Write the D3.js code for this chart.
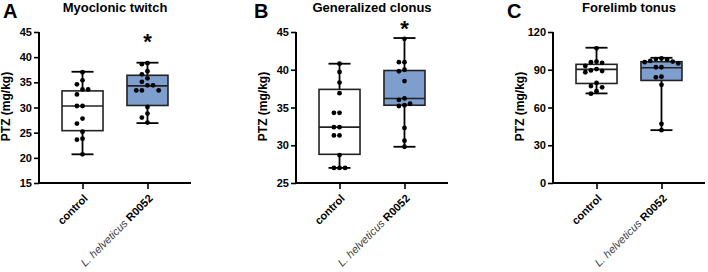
<!DOCTYPE html>
<html>
<head>
<meta charset="utf-8">
<script src="https://cdn.jsdelivr.net/npm/d3@7"></script>
<style>
  body { margin: 0; background: #fff; }
  text { font-family: Arial, "Liberation Sans", sans-serif; }
</style>
</head>
<body>
<div id="chart"></div>
<script>
// Data
const groups = ["control", "R0052"];
const panelLetters = ["A", "B", "C"];
const panelTitles = ["Myoclonic twitch", "Generalized clonus", "Forelimb tonus"];
const yDomains = [[15, 45], [25, 45], [0, 120]];
const yTicks = [[15, 20, 25, 30, 35, 40, 45], [25, 30, 35, 40, 45], [0, 30, 60, 90, 120]];

// box stats: [min, q1, median, q3, max]
const myoclonicBox = [[20.7, 25.4, 30.3, 33.3, 37.1], [26.9, 30.4, 34.3, 36.4, 38.9]];
const clonusBox = [[27.0, 28.8, 32.4, 37.4, 40.8], [29.8, 35.3, 36.2, 39.9, 44.2]];
const tonusBox = [[71.2, 79.1, 90.3, 94.3, 107.5], [42.0, 81.5, 91.6, 96.4, 99.5]];

const myoclonicControl = [37.0, 35.4, 34.6, 33.6, 33.6, 32.6, 30.3, 30.3, 27.8, 26.8, 25.2, 23.8, 23.6, 20.7];
const myoclonicR0052 = [38.8, 38.6, 37.2, 36.6, 35.8, 35.1, 34.4, 34.4, 33.4, 33.4, 33.4, 30.1, 28.8, 28.0, 27.0];
const clonusControl = [40.8, 39.7, 38.3, 36.9, 34.3, 34.3, 32.4, 32.4, 31.3, 31.3, 28.7, 27.0, 27.0, 27.0];
const clonusR0052 = [44.1, 41.0, 41.0, 40.0, 39.8, 38.5, 36.2, 36.0, 35.5, 35.3, 35.2, 32.3, 30.6, 29.8];
const tonusControl = [107.0, 96.5, 96.0, 95.5, 93.0, 90.5, 89.5, 89.0, 88.0, 79.5, 77.0, 76.0, 73.0, 71.0];
const tonusR0052 = [99.0, 98.5, 98.0, 97.0, 96.5, 96.0, 95.0, 92.0, 92.0, 84.5, 84.0, 78.0, 47.0, 42.0];

const significant = [[false, true], [false, true], [false, false]];

const panels = [
  { box: myoclonicBox, points: [myoclonicControl, myoclonicR0052] },
  { box: clonusBox, points: [clonusControl, clonusR0052] },
  { box: tonusBox, points: [tonusControl, tonusR0052] }
];

const W = 708, H = 272;
const svg = d3.select("#chart").append("svg").attr("width", W).attr("height", H);

const panelLeft = [39, 296, 553];
const axisLen = 152;
const yTop = 32, yBottom = 183;
const boxW = 41, capW = 22, r = 2.4;
const fillColors = ["#ffffff", "#7e9fcd"];

// simple beeswarm placement along x
function swarm(values, y, cx) {
  const placed = [];
  const step = 5.6;
  return values.map(v => {
    const py = y(v);
    let off = 0;
    for (let k = 0; k < 20; k++) {
      const cand = k === 0 ? 0 : (k % 2 ? -1 : 1) * Math.ceil(k / 2) * step;
      const hit = placed.some(p => Math.hypot(p.x - (cx + cand), p.y - py) < step - 0.2);
      if (!hit) { off = cand; break; }
    }
    const p = { x: cx + off, y: py };
    placed.push(p);
    return p;
  });
}

panels.forEach((panel, i) => {
  const g = svg.append("g").attr("transform", `translate(${panelLeft[i]},0)`);

  const x = d3.scalePoint().domain(groups).range([0, axisLen]).padding(0.67);
  const y = d3.scaleLinear().domain(yDomains[i]).range([yBottom, yTop]);

  // boxes
  groups.forEach((grp, j) => {
    const [mn, q1, med, q3, mx] = panel.box[j];
    const cx = x(grp);
    g.append("line").attr("x1", cx).attr("x2", cx).attr("y1", y(mn)).attr("y2", y(mx))
      .attr("stroke", "#000").attr("stroke-width", 1.8);
    [mn, mx].forEach(v => g.append("line")
      .attr("x1", cx - capW / 2).attr("x2", cx + capW / 2).attr("y1", y(v)).attr("y2", y(v))
      .attr("stroke", "#000").attr("stroke-width", 1.8));
    g.append("rect").attr("x", cx - boxW / 2).attr("y", y(q3))
      .attr("width", boxW).attr("height", y(q1) - y(q3))
      .attr("fill", fillColors[j]).attr("stroke", "#222").attr("stroke-width", 1.6);
    g.append("line").attr("x1", cx - boxW / 2).attr("x2", cx + boxW / 2)
      .attr("y1", y(med)).attr("y2", y(med)).attr("stroke", "#222").attr("stroke-width", 1.6);

    g.selectAll(null).data(swarm(panel.points[j], y, cx)).join("circle")
      .attr("cx", d => d.x).attr("cy", d => d.y).attr("r", r).attr("fill", "#000");

    if (significant[i][j]) {
      const sy = Math.min(yTop + 3, y(mx) - 16);
      g.append("text").attr("x", cx).attr("y", sy + 14).attr("text-anchor", "middle")
        .style("font-size", "22px").style("font-weight", "bold").text("*");
    }
  });

  // axes
  const yAxis = g.append("g").call(d3.axisLeft(y).tickValues(yTicks[i]).tickSize(5).tickPadding(2));
  yAxis.select(".domain").attr("stroke-width", 2).attr("d", `M0,${yTop}V${yBottom + 1}`);
  yAxis.selectAll(".tick line").attr("stroke-width", 1.6);
  yAxis.selectAll(".tick text").style("font-size", "11px").style("font-weight", "bold")
    .style("font-family", "Arial, 'Liberation Sans', sans-serif").attr("fill", "#000");

  const xAxis = g.append("g").attr("transform", `translate(0,${yBottom})`)
    .call(d3.axisBottom(x).tickSize(6).tickFormat(""));
  xAxis.select(".domain").attr("stroke-width", 2).attr("d", `M0,0H${axisLen}`);
  xAxis.selectAll(".tick line").attr("stroke-width", 1.6);

  // rotated category labels
  groups.forEach(grp => {
    const t = g.append("text")
      .attr("transform", `translate(${x(grp) + 6},${yBottom + 16}) rotate(-45)`)
      .attr("text-anchor", "end").style("font-size", "11px");
    if (grp === "control") {
      t.append("tspan").style("font-weight", "bold").text("control");
    } else {
      t.append("tspan").style("font-style", "italic").attr("fill", "#444").text("L. helveticus ");
      t.append("tspan").style("font-weight", "bold").text("R0052");
    }
  });

  // y label
  g.append("text")
    .attr("transform", `translate(-29,${(yTop + yBottom) / 2 - 1}) rotate(-90)`)
    .attr("text-anchor", "middle").style("font-size", "12px").style("font-weight", "bold")
    .text("PTZ (mg/kg)");

  // title and letter
  g.append("text").attr("x", axisLen / 2).attr("y", 12).attr("text-anchor", "middle")
    .style("font-size", "13px").style("font-weight", "bold").text(panelTitles[i]);
});

const letterX = [3, 254, 507];
panelLetters.forEach((l, i) => {
  svg.append("text").attr("x", letterX[i]).attr("y", 18)
    .style("font-size", "20px").style("font-weight", "bold").text(l);
});
</script>
</body>
</html>
